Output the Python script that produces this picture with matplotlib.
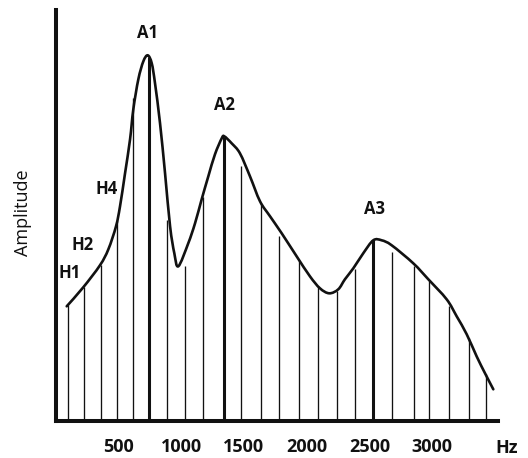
import matplotlib
matplotlib.use("Agg")
import matplotlib.pyplot as plt
from matplotlib.path import Path
from matplotlib.patches import PathPatch

# ── Spectrum data ─────────────────────────────────────────────────────────────
# harmonic frequencies (Hz) and their amplitudes (arbitrary units)
harm_hz = [100, 225, 358, 490, 618, 745, 889, 1030, 1171, 1341, 1474, 1636,
           1779, 1936, 2093, 2244, 2385, 2531, 2683, 2858, 2976, 3136, 3296, 3427]
harm_amp = [116, 134, 156, 200, 323, 364, 201, 155, 224, 284, 255, 218,
            185, 160, 135, 130, 152, 181, 169, 155, 140, 115, 83, 47]

# spectral envelope
env_hz = [87, 219, 352, 419, 480, 512, 552, 592, 618, 658, 698, 733, 765, 791,
          831, 871, 911, 945, 977, 1056, 1110, 1163, 1216, 1269, 1323, 1343,
          1402, 1468, 1548, 1628, 1708, 1801, 1920, 2026, 2106, 2180, 2252,
          2305, 2372, 2451, 2531, 2598, 2678, 2850, 2970, 3116, 3196, 3276,
          3355, 3422, 3488]
env_amp = [115, 134, 156, 172, 195, 215, 248, 282, 312, 342, 360, 366, 358, 338,
           298, 248, 195, 168, 155, 178, 198, 222, 245, 267, 283, 285,
           278, 268, 245, 220, 205, 188, 165, 145, 133, 128, 132,
           142, 153, 168, 181, 181, 176, 158, 142, 122, 105, 87,
           65, 48, 32]

# peak / harmonic labels: (text, harmonic index, offset in points)
labels = [("A1", 5, (-1, 11)), ("A2", 9, (0, 17)), ("A3", 17, (1, 16)),
          ("H1", 0, (1, 17)), ("H2", 1, (-1, 24)), ("H4", 3, (-8, 17))]
formant_idx = [5, 9, 17]

xtick_vals = [500, 1000, 1500, 2000, 2500, 3000]
xtick_text = ["500", "1000", "1500", "2000", "2500", "3000"]

FONT = "Open Sans"
INK = "#111111"


def smooth_path(xs, ys):
    """Catmull-Rom through the traced points, as cubic Bezier segments."""
    pts = list(zip(xs, ys))
    verts = [pts[0]]
    codes = [Path.MOVETO]
    n = len(pts)
    for i in range(n - 1):
        p0 = pts[max(i - 1, 0)]
        p1 = pts[i]
        p2 = pts[i + 1]
        p3 = pts[min(i + 2, n - 1)]
        c1 = (p1[0] + (p2[0] - p0[0]) / 6, p1[1] + (p2[1] - p0[1]) / 6)
        c2 = (p2[0] - (p3[0] - p1[0]) / 6, p2[1] - (p3[1] - p1[1]) / 6)
        verts += [c1, c2, p2]
        codes += [Path.CURVE4] * 3
    return Path(verts, codes)


fig = plt.figure(figsize=(5.28, 4.58), dpi=100)
ax = fig.add_axes([0.10568, 0.08013, 0.83693, 0.89803])

# harmonic lines, formant peaks drawn heavier
for i, (f, a) in enumerate(zip(harm_hz, harm_amp)):
    lw = 2.2 if i in formant_idx else 0.95
    ax.vlines(f, 0, a, color=INK, lw=lw, zorder=2)

envelope = PathPatch(smooth_path(env_hz, env_amp), facecolor="none",
                     edgecolor=INK, lw=1.9, joinstyle="round",
                     capstyle="round", zorder=3)
ax.add_patch(envelope)

for text, i, off in labels:
    ax.annotate(text, xy=(harm_hz[i], harm_amp[i]), xytext=off,
                textcoords="offset points", ha="center", va="bottom",
                fontsize=12, fontweight="bold", family=FONT, color=INK)

ax.set_xlim(0, 3523)
ax.set_ylim(0, 411.3)

for side in ("top", "right"):
    ax.spines[side].set_visible(False)
for side in ("left", "bottom"):
    ax.spines[side].set_linewidth(2.9)
    ax.spines[side].set_color(INK)
    ax.spines[side].set_capstyle("projecting")

ax.set_yticks([])
ax.set_xticks(xtick_vals)
ax.set_xticklabels(xtick_text, fontsize=13, fontweight="bold", family=FONT,
                   color=INK)
ax.tick_params(axis="x", length=0, pad=12)

ax.annotate("Hz", xy=(3595, 0), xytext=(0, -19), textcoords="offset points",
            ha="center", va="center", fontsize=13, fontweight="bold",
            family=FONT, color=INK, annotation_clip=False)

ax.set_ylabel("Amplitude", fontsize=13, family=FONT, color=INK)
ax.yaxis.set_label_coords(-0.054, 0.506)

fig.savefig("out.png", dpi=100)
